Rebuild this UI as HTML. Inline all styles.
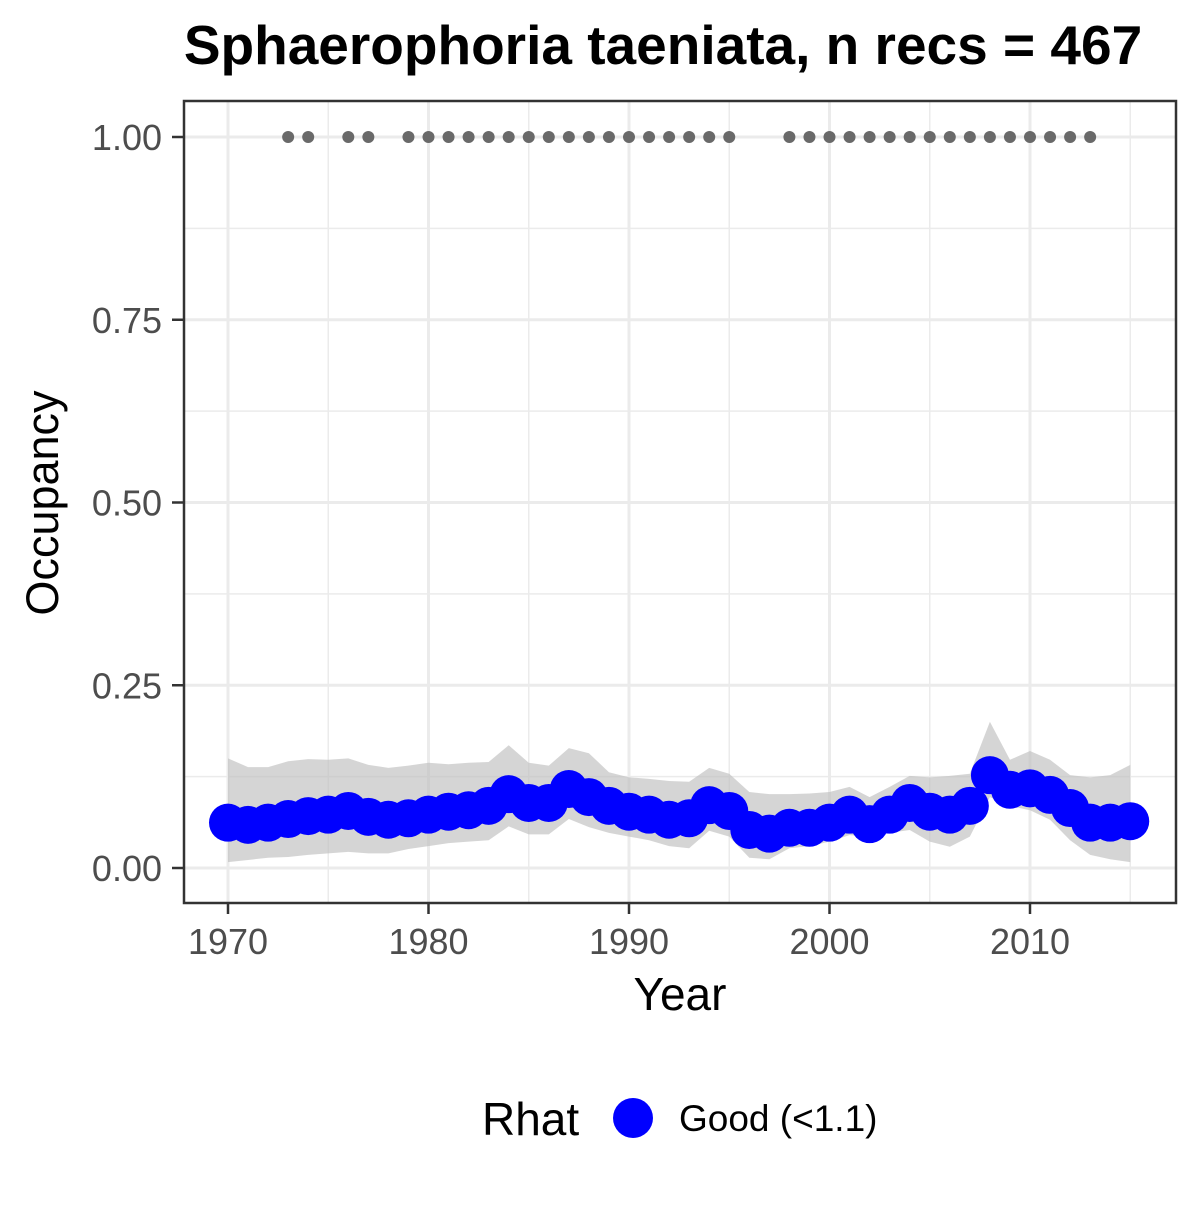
<!DOCTYPE html>
<html><head><meta charset="utf-8"><style>
html,body{margin:0;padding:0;background:#fff;}
svg text{font-family:"Liberation Sans",Arial,sans-serif;}
</style></head><body>
<svg id="chart" width="1200" height="1200" viewBox="0 0 1200 1200">
<rect x="0" y="0" width="1200" height="1200" fill="#fff"/>
<text x="663" y="64" text-anchor="middle" font-size="55" font-weight="bold">Sphaerophoria taeniata, n recs = 467</text>
<g id="grid"></g>
<g id="band"></g>
<g id="points"></g>
<g id="recs"></g>
<rect x="184" y="101" width="992" height="802" fill="none" stroke="#333" stroke-width="2.5"/>
<g id="axes"></g>
<text x="680" y="1010" text-anchor="middle" font-size="46">Year</text>
<text transform="translate(58,503) rotate(-90)" text-anchor="middle" font-size="45">Occupancy</text>
<text x="482" y="1135" font-size="46">Rhat</text>
<circle cx="633" cy="1118" r="20" fill="#0000ff"/>
<text x="679" y="1131" font-size="37">Good (&lt;1.1)</text>
</svg>
<script>
const years = [1970,1971,1972,1973,1974,1975,1976,1977,1978,1979,1980,1981,1982,1983,1984,1985,1986,1987,1988,1989,1990,1991,1992,1993,1994,1995,1996,1997,1998,1999,2000,2001,2002,2003,2004,2005,2006,2007,2008,2009,2010,2011,2012,2013,2014,2015];
const occ = [0.062,0.059,0.062,0.067,0.071,0.073,0.078,0.070,0.066,0.068,0.073,0.077,0.079,0.085,0.101,0.089,0.089,0.108,0.097,0.085,0.077,0.073,0.066,0.068,0.086,0.078,0.052,0.047,0.055,0.055,0.062,0.073,0.060,0.073,0.089,0.077,0.073,0.085,0.127,0.107,0.109,0.100,0.082,0.062,0.062,0.064];
const upper = [0.150,0.138,0.138,0.146,0.149,0.148,0.150,0.141,0.137,0.140,0.144,0.142,0.144,0.145,0.168,0.144,0.140,0.164,0.157,0.131,0.124,0.122,0.119,0.118,0.137,0.129,0.104,0.101,0.101,0.102,0.104,0.111,0.097,0.111,0.126,0.124,0.126,0.129,0.200,0.148,0.160,0.148,0.127,0.124,0.127,0.141];
const lower = [0.008,0.011,0.014,0.015,0.018,0.020,0.022,0.020,0.020,0.026,0.030,0.034,0.036,0.038,0.057,0.046,0.046,0.067,0.056,0.048,0.043,0.038,0.030,0.027,0.051,0.043,0.014,0.012,0.027,0.030,0.036,0.045,0.043,0.048,0.052,0.036,0.029,0.043,0.097,0.085,0.079,0.066,0.038,0.018,0.012,0.008];
const recYears = [1973,1974,1976,1977,1979,1980,1981,1982,1983,1984,1985,1986,1987,1988,1989,1990,1991,1992,1993,1994,1995,1998,1999,2000,2001,2002,2003,2004,2005,2006,2007,2008,2009,2010,2011,2012,2013];
const xTicks = [1970,1980,1990,2000,2010];
const xMinor = [1975,1985,1995,2005,2015];
const yTicks = [0,0.25,0.5,0.75,1];
const yTickLabels = ["0.00","0.25","0.50","0.75","1.00"];
const yMinor = [0.125,0.375,0.625,0.875];

const NS = "http://www.w3.org/2000/svg";
function xs(v){ return 228 + (v-1970)*20.05; }
function ys(v){ return 868 - v*731; }
function mk(tag, attrs, parent){ const e=document.createElementNS(NS,tag); for(const k in attrs) e.setAttribute(k,attrs[k]); parent.appendChild(e); return e; }

const grid=document.getElementById('grid');
xMinor.forEach(v=>{ const l=mk('line',{x1:xs(v),x2:xs(v),y1:101,y2:903,stroke:'#ebebeb','stroke-width':1.5},grid);

 });
yMinor.forEach(v=>{ const l=mk('line',{x1:184,x2:1176,y1:ys(v),y2:ys(v),stroke:'#ebebeb','stroke-width':1.5},grid);

 });
xTicks.forEach(v=>{ const l=mk('line',{x1:xs(v),x2:xs(v),y1:101,y2:903,stroke:'#ebebeb','stroke-width':3},grid);

 });
yTicks.forEach(v=>{ const l=mk('line',{x1:184,x2:1176,y1:ys(v),y2:ys(v),stroke:'#ebebeb','stroke-width':3},grid);

 });

const band=document.getElementById('band');
let d='M'+years.map((y,i)=>xs(y)+','+ys(upper[i])).join(' L');
for(let i=years.length-1;i>=0;i--) d+=' L'+xs(years[i])+','+ys(lower[i]);
d+=' Z';
const bp=mk('path',{d:d,fill:'#bebebe','fill-opacity':0.65},band);



const pts=document.getElementById('points');
years.forEach((y,i)=>{ const c=mk('circle',{cx:xs(y),cy:ys(occ[i]),r:19,fill:'#0000ff'},pts);

 });

const recs=document.getElementById('recs');
recYears.forEach(y=>{ const c=mk('circle',{cx:xs(y),cy:ys(1),r:6,fill:'#696969'},recs);

 });

const axes=document.getElementById('axes');
xTicks.forEach(v=>{
 const t=mk('line',{x1:xs(v),x2:xs(v),y1:903,y2:914,stroke:'#333','stroke-width':2.5},axes);
 
 
 const tx=mk('text',{x:xs(v),y:954,'text-anchor':'middle','font-size':36,fill:'#4d4d4d'},axes);
 tx.textContent=v;
 
 
});
yTicks.forEach((v,i)=>{
 const t=mk('line',{x1:172,x2:184,y1:ys(v),y2:ys(v),stroke:'#333','stroke-width':2.5},axes);
 
 
 const tx=mk('text',{x:162,y:ys(v)+13,'text-anchor':'end','font-size':36,fill:'#4d4d4d'},axes);
 tx.textContent=yTickLabels[i];
 
 
});
</script>
</body></html>
